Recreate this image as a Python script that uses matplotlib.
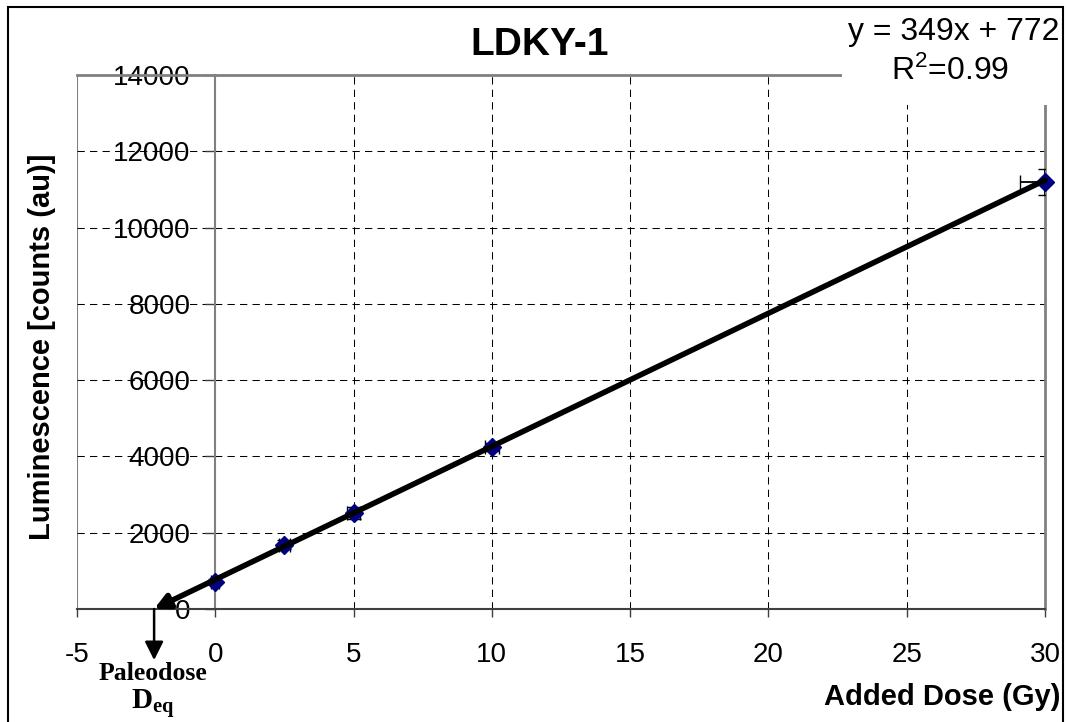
import numpy as np
import matplotlib
matplotlib.use('Agg')
import matplotlib.pyplot as plt
from matplotlib.patches import Rectangle

# added dose (Gy) and measured luminescence
dose = [0, 2.5, 5, 10, 30]
lum = [710, 1680, 2520, 4250, 11200]
lum_err = [60, 120, 150, 100, 340]
dose_err = [0.15, 0.2, 0.25, 0.25, 0.9]

slope, intercept = 349, 772
x_ticks = [-5, 0, 5, 10, 15, 20, 25, 30]
y_ticks = [0, 2000, 4000, 6000, 8000, 10000, 12000, 14000]

plt.rcParams['font.family'] = ['Liberation Sans', 'DejaVu Sans']
plt.rcParams['axes.unicode_minus'] = False

fig = plt.figure(figsize=(10.68, 7.22), dpi=100)
ax = fig.add_axes([77 / 1068, 1 - 609 / 722, (1045 - 77) / 1068, (609 - 75) / 722])

ax.set_xlim(-5, 30)
ax.set_ylim(0, 14000)

gray = '#808080'
ax.spines['left'].set_position(('data', 0))
ax.spines['left'].set_color(gray)
ax.spines['left'].set_linewidth(1.5)
ax.spines['right'].set_color(gray)
ax.spines['right'].set_linewidth(2)
ax.spines['top'].set_color(gray)
ax.spines['top'].set_linewidth(2)
ax.spines['bottom'].set_color('#404040')
ax.spines['bottom'].set_linewidth(1.5)
ax.axvline(-5, color=gray, lw=1.5, zorder=1)

# dashed grid, skipping the lines that sit on the frame
dash = (0, (7, 5))
ax.vlines([t for t in x_ticks if t not in (-5, 0, 30)], 0, 14000, colors='k', lw=0.75, linestyles=dash, zorder=1)
ax.hlines([t for t in y_ticks if t not in (0, 14000)], -5, 30, colors='k', lw=0.75, linestyles=dash, zorder=1)

ax.set_xticks(x_ticks)
ax.set_yticks(y_ticks)
ax.tick_params(axis='x', direction='out', length=6, width=1, color='#404040', pad=18, labelsize=20)
ax.tick_params(axis='y', direction='out', length=7, width=1, color='#404040', pad=11, labelsize=20)

# fit line with arrow to the x intercept
x0 = -intercept / slope
ax.annotate('', xy=(x0, 0), xytext=(30, slope * 30 + intercept),
            arrowprops=dict(arrowstyle='-|>', lw=4, color='k', mutation_scale=22, shrinkA=0, shrinkB=0),
            zorder=4)
ax.annotate('', xy=(x0, -1340), xytext=(x0, 0), annotation_clip=False,
            arrowprops=dict(arrowstyle='-|>', lw=1.8, color='k', mutation_scale=28, shrinkA=0, shrinkB=0),
            zorder=4)

ax.errorbar(dose, lum, yerr=lum_err, xerr=dose_err, fmt='none', ecolor='k', elinewidth=1.3, capsize=5, zorder=3)
ax.plot(dose, lum, 'D', color='#000080', ms=9, zorder=3, clip_on=False)

fig.text(153 / 1068, 1 - 673 / 722, 'Paleodose', ha='center', va='center', fontsize=18.5,
         family='Liberation Serif', weight='bold')
fig.text(153 / 1068, 1 - 703 / 722, r'$\mathregular{D_{eq}}$', ha='center', va='center', fontsize=21,
         family='Liberation Serif', weight='bold')

fig.text(540 / 1068, 1 - 45 / 722, 'LDKY-1', ha='center', va='center', fontsize=28, weight='bold')
fig.text(1060 / 1068, 1 - 697 / 722, 'Added Dose (Gy)', ha='right', va='center', fontsize=21, weight='bold')
fig.text(42 / 1068, 1 - 347 / 722, 'Luminescence [counts (au)]', ha='center', va='center', fontsize=21,
         weight='bold', rotation=90)

# equation box over the top-right corner
fig.patches.append(Rectangle((842 / 1068, 1 - 105 / 722), (1060 - 842) / 1068, 96 / 722,
                             transform=fig.transFigure, fc='white', ec='none', zorder=3))
fig.text(954 / 1068, 1 - 32 / 722, f'y = {slope}x + {intercept}', ha='center', va='center', fontsize=23, zorder=4)
fig.text(950 / 1068, 1 - 71 / 722, r'$\mathregular{R^2}$=0.99', ha='center', va='center', fontsize=23, zorder=4)

# outer border of the figure
fig.patches.append(Rectangle((8 / 1068, -0.01), (1063 - 8) / 1068, 1.01 - 7 / 722,
                             transform=fig.transFigure, fill=False, ec='k', lw=1.5, zorder=5, clip_on=False))

fig.savefig('out.png', dpi=100)
